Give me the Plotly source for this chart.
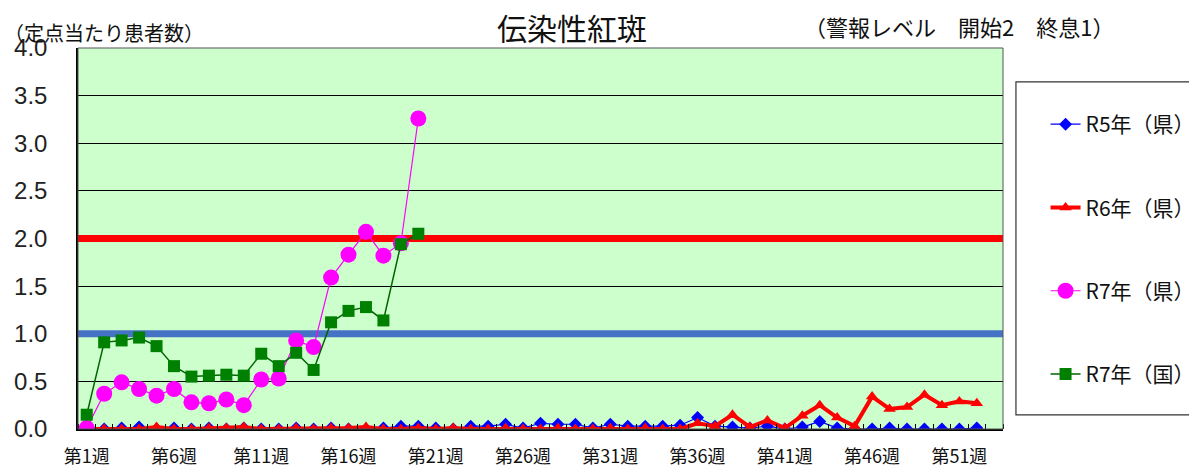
import plotly.graph_objects as go

weeks = list(range(1, 54))
tick_weeks = [1, 6, 11, 16, 21, 26, 31, 36, 41, 46, 51]
tick_labels = [f"第{w}週" for w in tick_weeks]

r5_ken = [0.01, 0.00, 0.01, 0.02, 0.00, 0.01, 0.00, 0.01, 0.00, 0.01,
          0.00, 0.00, 0.01, 0.00, 0.01, 0.00, 0.00, 0.01, 0.03, 0.03,
          0.01, 0.00, 0.03, 0.03, 0.05, 0.01, 0.06, 0.05, 0.05, 0.01,
          0.05, 0.03, 0.03, 0.03, 0.04, 0.12, 0.03, 0.02, 0.01, 0.03,
          0.00, 0.02, 0.08, 0.01, 0.00, 0.00, 0.01, 0.00, 0.00, 0.00,
          0.00, 0.01]
r6_ken = [0.00, 0.00, 0.00, 0.00, 0.02, 0.00, 0.00, 0.01, 0.01, 0.02,
          0.00, 0.00, 0.01, 0.00, 0.01, 0.01, 0.02, 0.00, 0.00, 0.01,
          0.00, 0.01, 0.00, 0.00, 0.01, 0.00, 0.00, 0.01, 0.00, 0.00,
          0.01, 0.00, 0.01, 0.00, 0.00, 0.06, 0.03, 0.15, 0.02, 0.09,
          0.01, 0.14, 0.25, 0.12, 0.03, 0.34, 0.21, 0.23, 0.36, 0.25,
          0.29, 0.27]
r7_ken = [0.01, 0.37, 0.49, 0.42, 0.35, 0.42, 0.28, 0.27, 0.31, 0.25,
          0.52, 0.53, 0.93, 0.86, 1.59, 1.83, 2.07, 1.82, 1.95, 3.26]
r7_kuni = [0.15, 0.91, 0.93, 0.96, 0.87, 0.66, 0.55, 0.56, 0.57, 0.56,
           0.79, 0.66, 0.80, 0.62, 1.12, 1.24, 1.28, 1.14, 1.94, 2.05]
alert_start = 2.0
alert_end = 1.0

CJK = "Noto Sans CJK JP"
LAT = "Liberation Sans, Arial"

fig = go.Figure()

# warning level lines (span whole week range)
xr = [0.5, 53.5]
fig.add_trace(go.Scatter(x=xr, y=[alert_start] * 2, mode="lines",
                         line=dict(color="#FF0000", width=7),
                         showlegend=False, hoverinfo="skip"))
fig.add_trace(go.Scatter(x=xr, y=[alert_end] * 2, mode="lines",
                         line=dict(color="#4472C4", width=7),
                         showlegend=False, hoverinfo="skip"))

fig.add_trace(go.Scatter(
    x=weeks[:len(r5_ken)], y=r5_ken, name="R5年（県）", legendgroup="a",
    mode="lines+markers", line=dict(color="#0000FF", width=1.2),
    marker=dict(symbol="diamond", size=10, color="#0000FF")))
fig.add_trace(go.Scatter(
    x=weeks[:len(r6_ken)], y=r6_ken, name="R6年（県）", legendgroup="b",
    mode="lines+markers", line=dict(color="#FF0000", width=4),
    marker=dict(symbol="triangle-up", size=11, color="#FF0000")))
fig.add_trace(go.Scatter(
    x=weeks[:len(r7_ken)], y=r7_ken, name="R7年（県）", legendgroup="c",
    mode="lines+markers", line=dict(color="#FF00FF", width=1.2),
    marker=dict(symbol="circle", size=16, color="#FF00FF")))
fig.add_trace(go.Scatter(
    x=weeks[:len(r7_kuni)], y=r7_kuni, name="R7年（国）", legendgroup="d",
    mode="lines+markers", line=dict(color="#006400", width=1.5),
    marker=dict(symbol="square", size=12, color="#008000")))

# plot border and legend frame
fig.add_shape(type="rect", xref="paper", yref="paper", x0=0, x1=1, y0=0, y1=1,
              line=dict(color="#555555", width=1), layer="above")
fig.add_shape(type="rect", xref="paper", yref="paper",
              x0=1.014, x1=1.205, y0=0.037, y1=0.911,
              line=dict(color="#333333", width=1.2))

# page body has an 8px default margin, so the figure is 8px smaller
fig.update_layout(
    width=1189, height=462,
    margin=dict(l=70, r=194, t=40, b=41, autoexpand=False),
    paper_bgcolor="white", plot_bgcolor="#CCFFCC",
    font=dict(family=CJK, color="#111111"),
    showlegend=True,
    legend=dict(x=1.046, y=0.853, xanchor="left", yanchor="top",
                font=dict(family=CJK, size=21, color="#111111"),
                tracegroupgap=53, bgcolor="rgba(0,0,0,0)", borderwidth=0,
                itemclick=False),
    xaxis=dict(range=[0.5, 53.5], tickmode="array", tickvals=tick_weeks,
               ticktext=tick_labels, ticks="", showgrid=False, zeroline=False,
               showline=True, linecolor="black", linewidth=1.5,
               automargin=False, ticklabelstandoff=11,
               tickfont=dict(family=CJK, size=18, color="#111111"),
               minor=dict(tick0=0.5, dtick=1, ticks="inside", ticklen=5,
                          tickcolor="black", showgrid=False)),
    yaxis=dict(range=[0, 4.0], dtick=0.5, tickformat=".1f",
               showgrid=True, gridcolor="black", gridwidth=1,
               zeroline=False, showline=True, linecolor="black", linewidth=1.5,
               automargin=False, ticks="", ticklabelstandoff=24,
               tickfont=dict(family=LAT, size=24, color="#222222")),
    annotations=[
        dict(text="伝染性紅斑", xref="paper", yref="paper", x=0.534, y=1.0,
             yshift=21, xanchor="center", yanchor="middle", showarrow=False,
             font=dict(family=CJK, size=30, color="#111111")),
        dict(text="（警報レベル　開始2　終息1）", xref="paper", yref="paper",
             x=0.783, y=1.0, yshift=22, xanchor="left", yanchor="middle",
             showarrow=False, font=dict(family=CJK, size=22, color="#111111")),
        dict(text="（定点当たり患者数）", xref="paper", yref="paper",
             x=-0.082, y=1.0, yshift=16, xanchor="left", yanchor="middle",
             showarrow=False, font=dict(family=CJK, size=20, color="#111111")),
    ],
)

fig.write_html("out.html")
